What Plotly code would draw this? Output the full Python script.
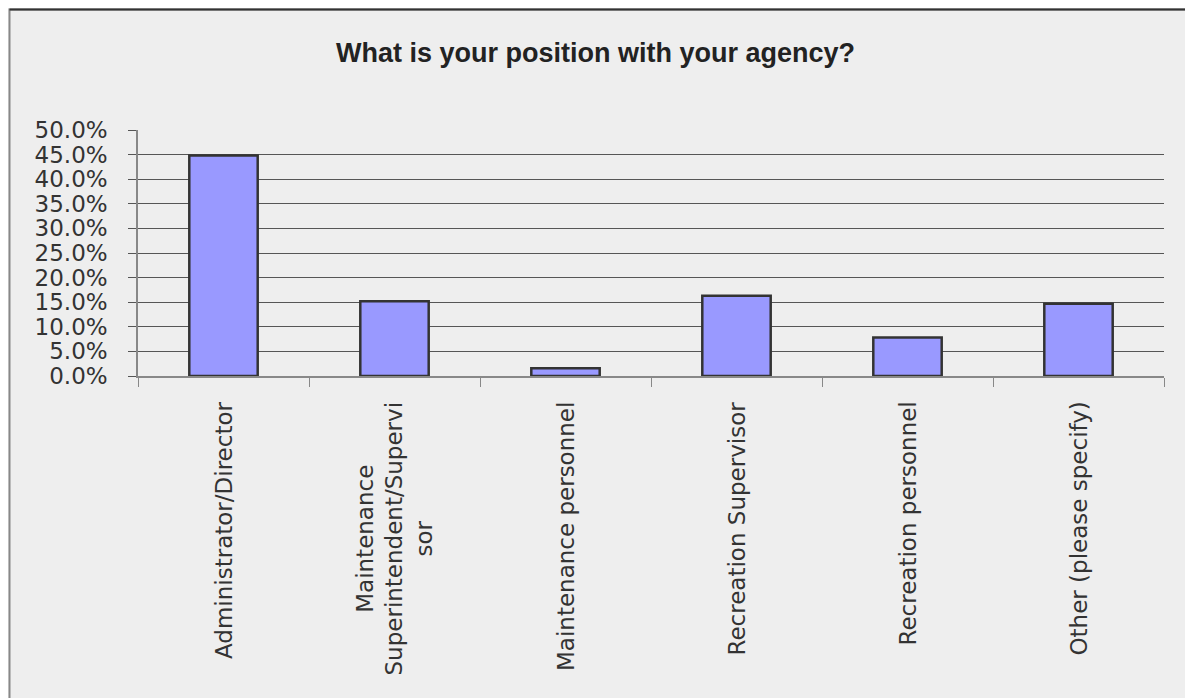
import plotly.graph_objects as go

categories = ["Administrator/Director",
              "Maintenance Superintendent/Supervisor",
              "Maintenance personnel",
              "Recreation Supervisor",
              "Recreation personnel",
              "Other (please specify)"]
category_labels = ["Administrator/Director",
                   "Maintenance<br>Superintendent/Supervi<br>sor",
                   "Maintenance personnel",
                   "Recreation Supervisor",
                   "Recreation personnel",
                   "Other (please specify)"]
values = [44.8, 15.2, 1.6, 16.3, 7.8, 14.7]
y_ticks = [0, 5, 10, 15, 20, 25, 30, 35, 40, 45, 50]

# page is offset by the browser's default 8px body margin
O = 8
W, H = 1193, 698
L, R, T = 138, 29, 130
PB = 376  # page y of the x axis
FW, FH = W - O, H - O
pw, ph = W - L - R, PB - T

def px(x):
    return (x - L) / pw

def py(y):
    return (PB - y) / ph

fig = go.Figure()
fig.add_trace(go.Bar(
    x=categories, y=values, width=0.4,
    marker=dict(color="#9999ff", line=dict(color="#333333", width=2.5)),
    hoverinfo="x+y",
))

for cat, lab in zip(categories, category_labels):
    fig.add_annotation(x=cat, xref="x", y=py(400), yref="paper",
                       text=lab, textangle=-90, showarrow=False,
                       xanchor="center", yanchor="top", align="center",
                       font=dict(family="DejaVu Sans", size=23, color="#333333"))

fig.update_layout(
    width=FW, height=FH,
    margin=dict(l=L - O, r=R, t=T - O, b=FH + O - PB),
    paper_bgcolor="#eeeeee", plot_bgcolor="#eeeeee",
    showlegend=False,
    title=dict(text="<b>What is your position with your agency?</b>",
               x=(595.5 - O) / FW, xref="container", xanchor="center",
               y=1 - (53 - O) / FH, yref="container", yanchor="middle",
               font=dict(family="Liberation Sans", size=27, color="#222222")),
    xaxis=dict(type="category", showticklabels=False, ticks="outside",
               tickson="boundaries", ticklen=9, tickcolor="#888888",
               showline=True, linecolor="#888888", linewidth=1.5,
               showgrid=False, zeroline=False),
    yaxis=dict(range=[0, 50], tickvals=y_ticks,
               ticktext=[f"{v:.1f}%" for v in y_ticks],
               ticks="outside", ticklen=8, tickcolor="#555555",
               ticklabelstandoff=16,
               showline=True, linecolor="#888888", linewidth=1.5,
               showgrid=True, gridcolor="#555555", gridwidth=1,
               zeroline=False,
               tickfont=dict(family="DejaVu Sans", size=23, color="#333333")),
    shapes=[
        dict(type="rect", xref="paper", yref="paper",
             x0=px(9.5), x1=px(1191), y0=py(705), y1=py(9.5),
             line=dict(color="#888888", width=2), layer="below"),
        dict(type="line", xref="paper", yref="paper",
             x0=px(9.5), x1=px(1191), y0=py(9.5), y1=py(9.5),
             line=dict(color="#333333", width=2)),
    ],
)

fig.write_html("out.html")
